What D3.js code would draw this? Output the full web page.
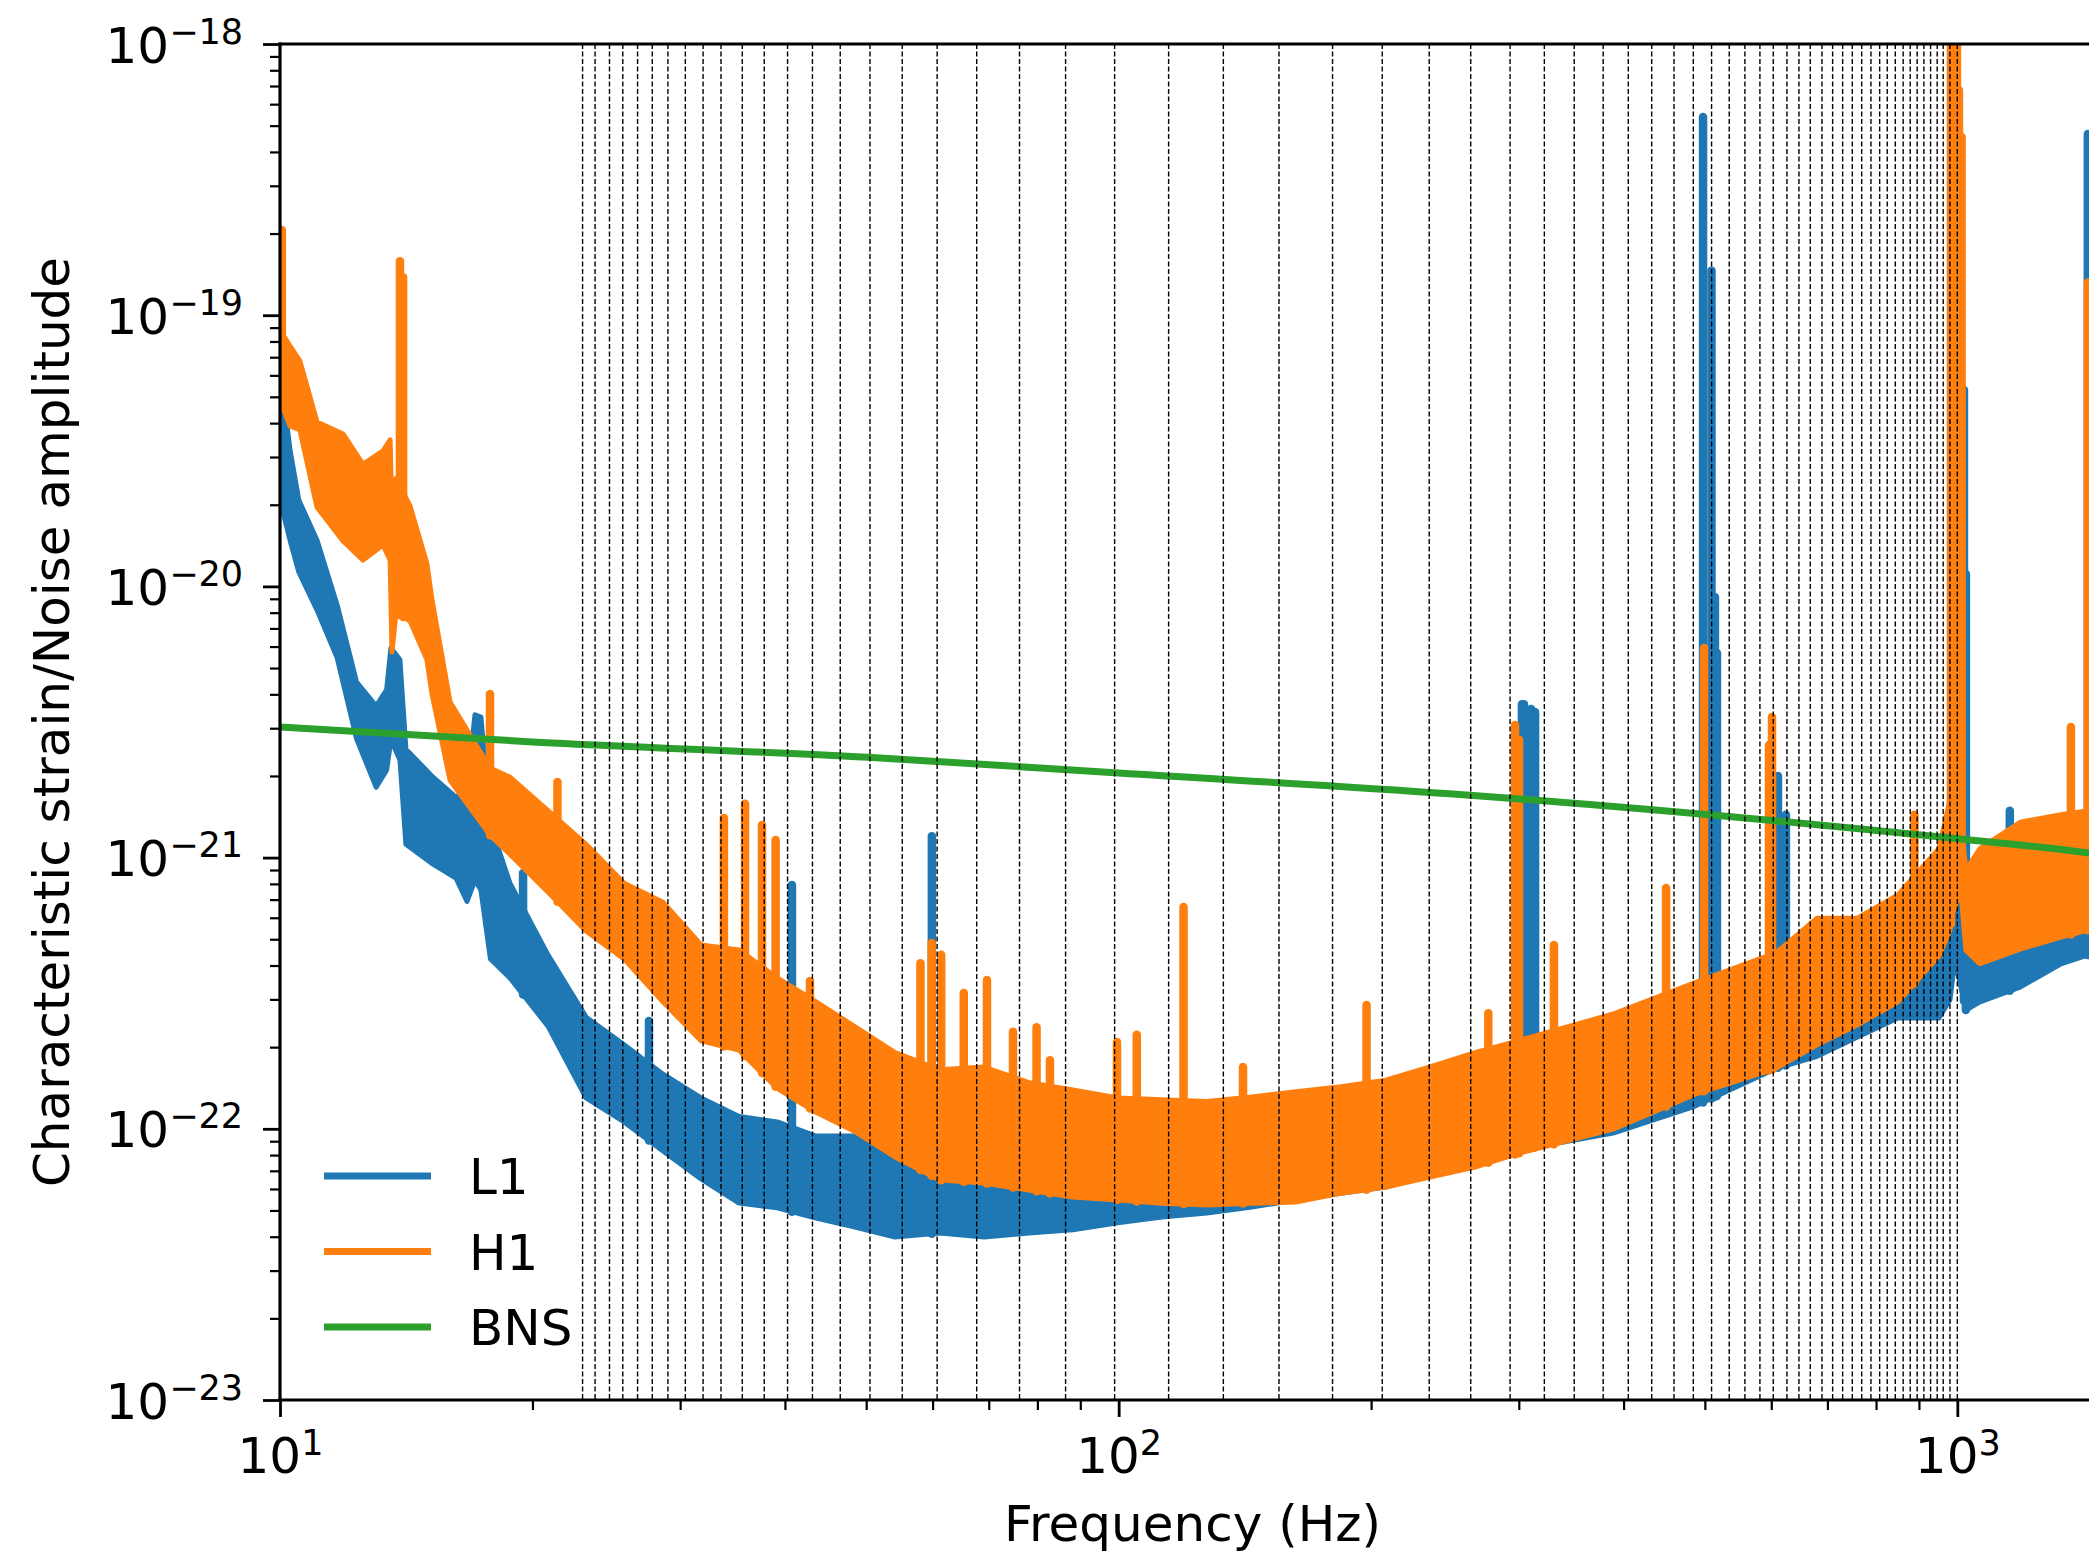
<!DOCTYPE html>
<html><head><meta charset="utf-8">
<script src="https://cdn.jsdelivr.net/npm/d3@7"></script>
<style>
html,body{margin:0;padding:0;background:#fff;}
svg{display:block;font-family:"DejaVu Sans",sans-serif;}
</style></head><body>
<svg id="chart" width="2089" height="1556"></svg>
<script>
// ---------------- DATA ----------------
// L1 noise amplitude: envelope of the noisy trace (upper / lower) at knot frequencies
const l1Freq = [10.0,10.28,10.53,11.07,11.70,12.34,13.02,13.4,13.56,13.9,14.13,15.22,16.21,16.71,17.08,17.36,17.82,18.80,20.87,23.17,25.72,28.62,31.77,35.27,39.16,43.57,48.35,54.12,61.22,69.09,78.18,88.19,99.77,112.6,127.4,144.2,162.7,184.1,208.3,235.1,266.0,301,388.6,486.1,607.8,680.3,760.3,849.7,950.8,980,993.4,1011.8,1023.8,1064,1188,1329,1434,1500];
const l1Hi = [6.28e-20,3.18e-20,2.08e-20,1.48e-20,8.53e-21,4.44e-21,3.62e-21,4.15e-21,5.93e-21,5.36e-21,2.51e-21,1.98e-21,1.67e-21,1.77e-21,3.36e-21,3.30e-21,1.32e-21,8.05e-22,4.38e-22,2.58e-22,2.04e-22,1.59e-22,1.30e-22,1.11e-22,1.06e-22,9.40e-23,9.40e-23,8.36e-23,7.67e-23,7.36e-23,7.67e-23,8.00e-23,8.36e-23,9.10e-23,9.48e-23,1.03e-22,1.12e-22,1.39e-22,1.33e-22,1.51e-22,1.65e-22,1.87e-22,2.12e-22,2.52e-22,3.25e-22,3.69e-22,4.19e-22,4.97e-22,5.41e-22,6.98e-22,8.26e-22,6.98e-22,5.65e-22,5.89e-22,6.68e-22,7.93e-22,8.63e-22,9.0e-22];
const l1Lo = [2.08e-20,1.48e-20,1.13e-20,8.18e-21,5.45e-21,2.74e-21,1.82e-21,2.10e-21,2.72e-21,2.29e-21,1.12e-21,9.46e-22,8.41e-22,6.90e-22,8.26e-22,7.60e-22,4.23e-22,3.60e-22,2.39e-22,1.30e-22,1.06e-22,8.28e-23,6.53e-23,5.32e-23,5.11e-23,4.69e-23,4.35e-23,3.99e-23,4.13e-23,3.99e-23,4.13e-23,4.24e-23,4.50e-23,4.73e-23,4.89e-23,5.15e-23,5.46e-23,5.79e-23,6.10e-23,6.76e-23,7.48e-23,8.36e-23,9.64e-23,1.21e-22,1.67e-22,1.85e-22,2.18e-22,2.56e-22,2.56e-22,2.99e-22,4.19e-22,3.25e-22,2.74e-22,2.94e-22,3.33e-22,4.06e-22,4.38e-22,4.56e-22];
const l1SpikeFreq = [19.49,27.54,40.78,59.88,302.6,304.3,306.0,310.3,313.7,497.5,509.2,514.0,516.9,611.1,624.6,1018.4,1023.8,1155,1431];
const l1SpikePeak = [8.77e-22,2.50e-22,7.93e-22,1.20e-21,3.68e-21,3.68e-21,3.30e-21,3.53e-21,3.44e-21,5.38e-19,1.46e-19,9.14e-21,5.68e-21,2.00e-21,1.44e-21,5.30e-20,1.11e-20,1.49e-21,4.66e-19];

// H1 noise amplitude
const h1Freq = [10.0,10.28,10.56,11.07,11.89,12.56,13.27,13.53,13.6,13.75,14.29,14.97,15.18,15.95,17.8,18.8,20.87,23.17,25.72,28.62,31.77,35.27,39.16,43.57,48.35,54.12,61.22,69.09,78.18,88.19,99.77,112.6,127.4,144.2,162.7,184.1,208.3,235.1,266.0,301,388.6,486.1,607.8,680.3,760.3,849.7,950.8,980,993.4,1011.8,1023.8,1064,1188,1329,1434,1500];
const h1Hi = [8.81e-20,7.69e-20,6.78e-20,4.04e-20,3.65e-20,2.82e-20,3.16e-20,3.47e-20,1.76e-20,2.5e-20,1.98e-20,1.21e-20,8.91e-21,3.75e-21,2.14e-21,1.98e-21,1.49e-21,1.12e-21,8.05e-22,6.85e-22,4.76e-22,4.56e-22,3.60e-22,2.94e-22,2.39e-22,1.91e-22,1.65e-22,1.69e-22,1.48e-22,1.39e-22,1.30e-22,1.28e-22,1.26e-22,1.31e-22,1.37e-22,1.43e-22,1.51e-22,1.69e-22,1.91e-22,2.12e-22,2.65e-22,3.45e-22,4.45e-22,5.98e-22,5.98e-22,7.28e-22,1.08e-21,1.63e-21,1.93e-21,1.26e-21,9.0e-22,1.08e-21,1.35e-21,1.44e-21,1.49e-21,1.52e-21];
const h1Lo = [4.86e-20,3.90e-20,3.78e-20,1.96e-20,1.47e-20,1.25e-20,1.42e-20,1.25e-20,5.73e-21,8.0e-21,7.45e-21,5.36e-21,4.01e-21,1.93e-21,1.21e-21,1.03e-21,7.46e-22,5.36e-22,4.23e-22,2.94e-22,2.11e-22,1.95e-22,1.41e-22,1.15e-22,9.82e-23,7.87e-23,6.47e-23,6.31e-23,5.94e-23,5.60e-23,5.46e-23,5.32e-23,5.24e-23,5.32e-23,5.37e-23,5.79e-23,6.10e-23,6.64e-23,7.23e-23,8.15e-23,9.97e-23,1.34e-22,1.67e-22,2.04e-22,2.42e-22,2.94e-22,4.34e-22,5.41e-22,7.03e-22,7.03e-22,4.56e-22,4.06e-22,4.60e-22,5.09e-22,5.41e-22,5.5e-22];
const h1SpikeFreq = [10.05,13.9,14.02,17.8,21.42,33.83,35.85,37.56,38.99,42.85,58.03,59.84,61.43,65.36,69.66,74.82,79.82,82.81,99.54,105.1,119.5,140.7,197.5,275.9,296.9,300.2,330.4,449.5,498.9,596.3,601.2,888.9,982.7,990,998.9,1004.4,1011.8,1366,1431];
const h1SpikePeak = [2.06e-19,1.58e-19,1.38e-19,4.01e-21,1.90e-21,1.40e-21,1.58e-21,1.32e-21,1.16e-21,3.51e-22,4.08e-22,4.84e-22,4.38e-22,3.17e-22,3.54e-22,2.28e-22,2.37e-22,1.79e-22,2.09e-22,2.22e-22,6.58e-22,1.69e-22,2.86e-22,2.67e-22,3.08e-21,2.72e-21,4.76e-22,7.73e-22,5.93e-21,2.60e-21,3.30e-21,1.44e-21,2e-18,2e-18,2e-18,6.76e-19,4.54e-19,3.03e-21,1.32e-19];

// BNS characteristic strain
const bnsFreq = [10,20,51.9,100,248,982,1436,1500];
const bnsStrain = [3.03e-21,2.67e-21,2.33e-21,2.05e-21,1.72e-21,1.18e-21,1.04e-21,1.02e-21];

// Frequencies of the vertical dashed lines (Hz)
const binEdges = [22.95,23.75,24.71,25.63,26.69,27.79,29.01,30.43,31.95,33.56,35.58,37.79,40.29,43.14,46.56,50.52,55.2,60.75,67.72,76.17,86.44,98.9,114.7,133.3,155.3,179.9,206.2,234.6,262.9,292.9,321.8,349.3,378.2,405.2,432.1,459.4,484.4,509.3,534.6,558.1,581.6,603.3,626.4,647.4,667.8,689.6,710.1,729.9,749.5,769.1,788.9,808,825,843.4,861.8,878.7,895.6,912.3,929.2,946.2,962,980,1000];

const xTickExps = [1,2,3];
const yTickExps = [-18,-19,-20,-21,-22,-23];
const legendLabels = ["L1","H1","BNS"];
const seriesColors = ["#1f77b4","#ff7f0e","#2ca02c"];

// ---------------- DRAWING ----------------
const svg = d3.select("#chart");
const X0 = 280, X1 = 2105, Y0 = 44, Y1 = 1400;
const x = d3.scaleLog().domain([10,1500]).range([X0,X1]);
const y = d3.scaleLog().domain([1e-23,1e-18]).range([Y1,Y0]);
const FONT = "DejaVu Sans";

svg.append("rect").attr("width",2089).attr("height",1556).attr("fill","#fff");
svg.append("defs").append("clipPath").attr("id","plotclip")
  .append("rect").attr("x",X0).attr("y",Y0).attr("width",X1-X0).attr("height",Y1-Y0);
const plot = svg.append("g").attr("clip-path","url(#plotclip)");

function interpLog(freq, vals, f){
  if (f <= freq[0]) return vals[0];
  for (let i=1;i<freq.length;i++){
    if (f <= freq[i]){
      const t = (Math.log(f)-Math.log(freq[i-1]))/(Math.log(freq[i])-Math.log(freq[i-1]));
      return Math.exp(Math.log(vals[i-1]) + t*(Math.log(vals[i])-Math.log(vals[i-1])));
    }
  }
  return vals[vals.length-1];
}

function drawDetector(freq, hi, lo, spikeF, spikeP, color){
  const data = freq.map((f,i)=>({f, hi:hi[i], lo:lo[i]}));
  const area = d3.area().x(d=>x(d.f)).y0(d=>y(d.lo)).y1(d=>y(d.hi));
  plot.append("path").datum(data).attr("d",area)
    .attr("fill",color).attr("stroke",color).attr("stroke-width",5).attr("stroke-linejoin","round");
  plot.append("g").selectAll("line")
    .data(spikeF.map((f,i)=>({f, p:spikeP[i]})))
    .join("line")
    .attr("x1",d=>x(d.f)).attr("x2",d=>x(d.f))
    .attr("y1",d=>y(d.p)).attr("y2",d=>y(interpLog(freq,lo,d.f)))
    .attr("stroke",color).attr("stroke-width",8.5).attr("stroke-linecap","round");
}

drawDetector(l1Freq,l1Hi,l1Lo,l1SpikeFreq,l1SpikePeak,seriesColors[0]);
drawDetector(h1Freq,h1Hi,h1Lo,h1SpikeFreq,h1SpikePeak,seriesColors[1]);

plot.append("path").datum(bnsFreq.map((f,i)=>({f, v:bnsStrain[i]})))
  .attr("d", d3.line().x(d=>x(d.f)).y(d=>y(d.v)).curve(d3.curveMonotoneX))
  .attr("fill","none").attr("stroke",seriesColors[2]).attr("stroke-width",7);

// dashed vertical lines
svg.append("g").selectAll("line").data(binEdges).join("line")
  .attr("x1",d=>x(d)).attr("x2",d=>x(d)).attr("y1",Y0).attr("y2",Y1)
  .attr("stroke","#000").attr("stroke-width",1.4).attr("stroke-dasharray","5,2.5");

// ---- axes ----
const yMajor = yTickExps.map(e=>Math.pow(10,e));
const yMinor = [];
for (let e=-23;e<-18;e++) for (let k=2;k<=9;k++) yMinor.push(k*Math.pow(10,e));
const xMajor = xTickExps.map(e=>Math.pow(10,e));
const xMinor = [];
for (let e=1;e<=3;e++) for (let k=2;k<=9;k++){ const v=k*Math.pow(10,e); if (v<=1500) xMinor.push(v); }

function styleAxis(g, w){
  g.select(".domain").remove();
  g.selectAll(".tick line").attr("stroke","#000").attr("stroke-width",w);
  g.selectAll(".tick text").remove();
}
const gyMin = svg.append("g").attr("transform",`translate(${X0},0)`)
  .call(d3.axisLeft(y).tickValues(yMinor).tickSize(10).tickFormat(()=>""));
styleAxis(gyMin,2.2);
const gy = svg.append("g").attr("transform",`translate(${X0},0)`)
  .call(d3.axisLeft(y).tickValues(yMajor).tickSize(17).tickFormat(()=>""));
styleAxis(gy,2.8);
gy.selectAll(".tick").each(function(d){
  const e = Math.round(Math.log10(d));
  const t = d3.select(this).append("text").attr("x",-37).attr("y",18)
    .attr("text-anchor","end").attr("fill","#000").attr("font-family",FONT).attr("font-size",50);
  t.append("tspan").text("10");
  t.append("tspan").attr("font-size",35).attr("dy",-19).text(e<0 ? "\u2212"+(-e) : String(e));
});

const gxMin = svg.append("g").attr("transform",`translate(0,${Y1})`)
  .call(d3.axisBottom(x).tickValues(xMinor).tickSize(10).tickFormat(()=>""));
styleAxis(gxMin,2.2);
const gx = svg.append("g").attr("transform",`translate(0,${Y1})`)
  .call(d3.axisBottom(x).tickValues(xMajor).tickSize(17).tickFormat(()=>""));
styleAxis(gx,2.8);
gx.selectAll(".tick").each(function(d){
  const e = Math.round(Math.log10(d));
  const t = d3.select(this).append("text").attr("x",0).attr("y",73)
    .attr("text-anchor","middle").attr("fill","#000").attr("font-family",FONT).attr("font-size",50);
  t.append("tspan").text("10");
  t.append("tspan").attr("font-size",35).attr("dy",-18).text(String(e));
});

// spines
const sp = svg.append("g").attr("stroke","#000").attr("stroke-width",3.2).attr("stroke-linecap","square");
sp.append("line").attr("x1",X0).attr("x2",X0).attr("y1",Y0).attr("y2",Y1);
sp.append("line").attr("x1",X0).attr("x2",X1).attr("y1",Y1).attr("y2",Y1);
sp.append("line").attr("x1",X0).attr("x2",X1).attr("y1",Y0).attr("y2",Y0);
sp.append("line").attr("x1",X1).attr("x2",X1).attr("y1",Y0).attr("y2",Y1);

// axis labels
svg.append("text").attr("x",(X0+X1)/2).attr("y",1541).attr("text-anchor","middle")
  .attr("font-family",FONT).attr("font-size",50).attr("fill","#000").text("Frequency (Hz)");
svg.append("text").attr("transform",`translate(69,${(Y0+Y1)/2}) rotate(-90)`).attr("text-anchor","middle")
  .attr("font-family",FONT).attr("font-size",50).attr("fill","#000").text("Characteristic strain/Noise amplitude");

// legend
const leg = svg.append("g");
legendLabels.forEach((lab,i)=>{
  const yy = 1176 + i*75.5;
  leg.append("line").attr("x1",324).attr("x2",431).attr("y1",yy).attr("y2",yy)
    .attr("stroke",seriesColors[i]).attr("stroke-width",7);
  leg.append("text").attr("x",469).attr("y",yy+18).attr("font-family",FONT).attr("font-size",50)
    .attr("fill","#000").text(lab);
});
</script>
</body></html>
